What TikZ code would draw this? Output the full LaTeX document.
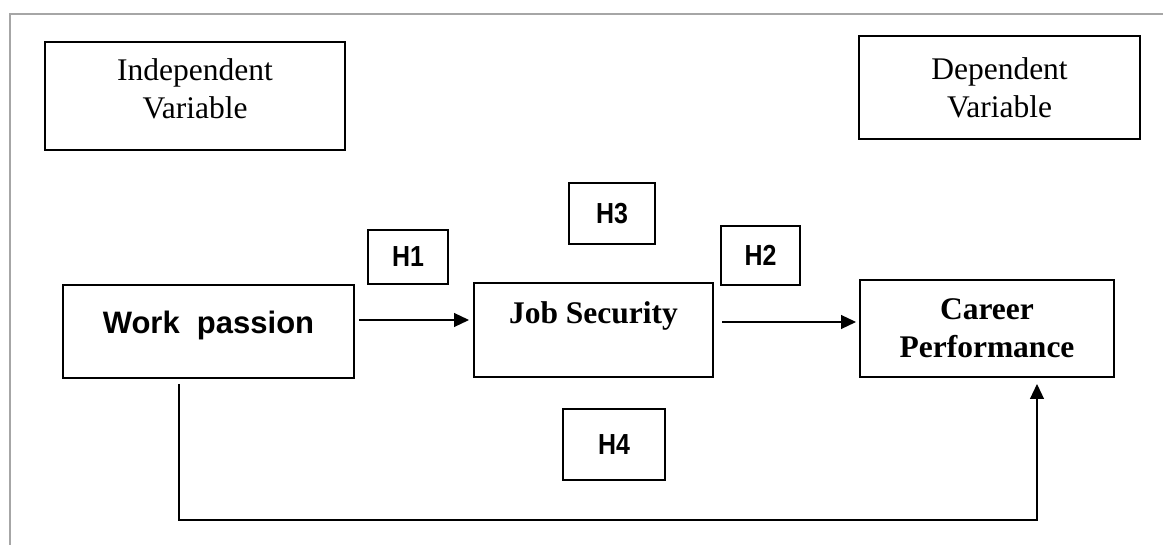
\documentclass[tikz,border=0pt]{standalone}
\usepackage{fontspec}
\setmainfont{Liberation Serif}
\setsansfont{Liberation Sans}
\newfontfamily\narrowsans[FakeStretch=0.86]{Liberation Sans}
\usetikzlibrary{arrows.meta}

\begin{document}
\begin{tikzpicture}[
    x=0.5pt, y=-0.5pt,
    box/.style={
        rectangle,
        draw,
        line width=1pt,
        align=center,
        font=\fontsize{15.75pt}{19pt}\selectfont,
        },
    hbox/.style={
        rectangle,
        draw,
        line width=1pt,
        inner sep=0pt,
        font=\narrowsans\bfseries\fontsize{14.5pt}{17pt}\selectfont,
        },
    arr/.style={
        line width=0.6pt,
        -{Triangle[length=7.5pt,width=7pt]},
        },
]
\useasboundingbox (0,0) rectangle (1163,545);
\draw[black!35, line width=1.2pt] (10,545) -- (10,14) -- (1163,14);

% variable type boxes
\node[box, minimum width=150pt, minimum height=54pt](indep) at (195,96)
    {\raisebox{2.25pt}[\height][\depth]{\begin{tabular}{@{}c@{}}Independent\\Variable\end{tabular}}};
\node[box, minimum width=140.5pt, minimum height=51.5pt](dep) at (999.5,87.5){Dependent\\Variable};

% model
\node[box, font=\sffamily\bfseries\fontsize{15.5pt}{19pt}\selectfont, inner ysep=0pt,
    minimum width=145.5pt, text height=24.5pt, text depth=22pt](work) at (208.5,331.5){Work\ \ passion};
\node[box, font=\bfseries\fontsize{15.75pt}{19pt}\selectfont, inner ysep=0pt,
    minimum width=119.5pt, text height=20.5pt, text depth=26.5pt](job) at (593.5,330){Job Security};
\node[box, font=\bfseries\fontsize{15.75pt}{19pt}\selectfont,
    minimum width=127pt, minimum height=48.5pt](career) at (987,328.5){Career\\Performance};

% hypotheses
\node[hbox, minimum width=40pt, minimum height=27pt](h1) at (408,257){H1};
\node[hbox, minimum width=43pt, minimum height=30.5pt](h3) at (612,213.5){H3};
\node[hbox, minimum width=39.5pt, minimum height=29.5pt](h2) at (760.5,255.5){H2};
\node[hbox, minimum width=51pt, minimum height=35.5pt](h4) at (614,444.5){H4};

\draw[arr] ([xshift=2pt,yshift=5.75pt]work.east) -- ([xshift=-2pt,yshift=5.75pt]work.east -| job.west);
\draw[arr] ([xshift=4pt,yshift=4pt]job.east) -- ([xshift=-1.5pt,yshift=4pt]job.east -| career.west);

\coordinate (low) at (179,520);
\draw[arr] ([xshift=-14.75pt,yshift=-2.5pt]work.south) -- (low) -| ([xshift=25pt,yshift=-3pt]career.south);

\end{tikzpicture}
\end{document}
